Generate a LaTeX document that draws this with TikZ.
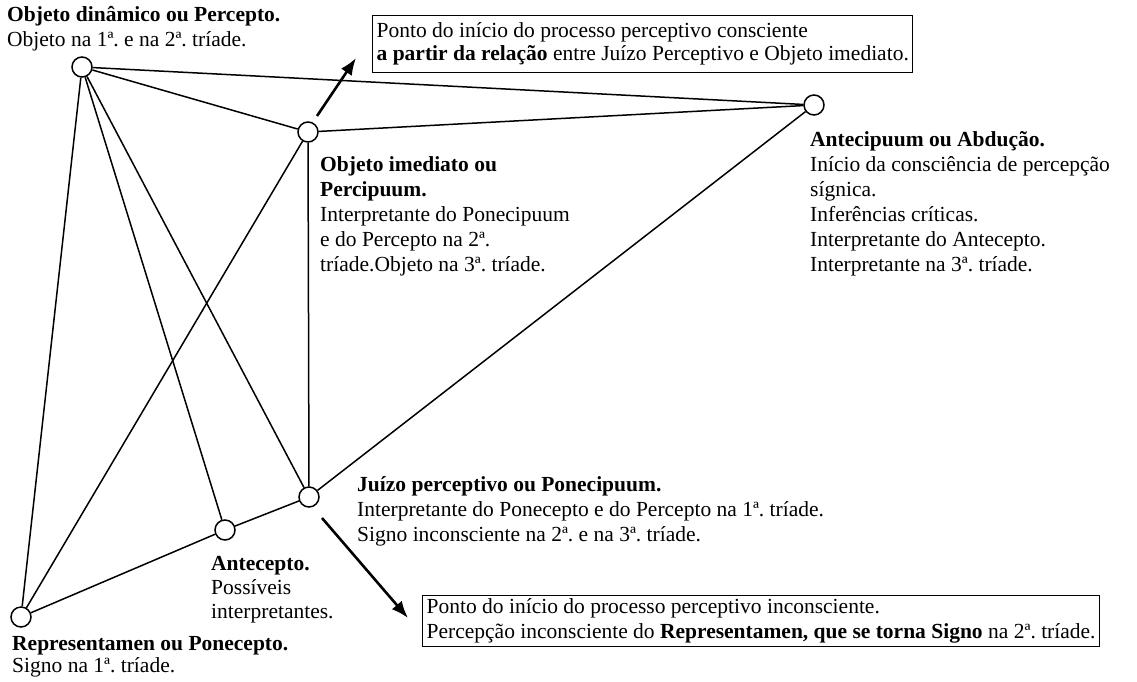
\documentclass[tikz,border=0pt]{standalone}
\usepackage{fontspec}
\setmainfont{Liberation Serif}
\frenchspacing
\usetikzlibrary{positioning}
\usetikzlibrary{calc}
\usetikzlibrary{arrows.meta}

\begin{document}
\begin{tikzpicture}[x=1pt,y=-1pt,
  every node/.style={font=\fontsize{21.5}{25}\selectfont},
  vertex/.style={circle,draw,line width=1.5pt,fill=white,minimum size=20pt,inner sep=0pt},
  textblock/.style={anchor=north west,align=left,inner sep=0pt},
  note/.style={draw,line width=1.3pt,anchor=north west,align=left,inner xsep=4pt},
  link/.style={line width=1.5pt},
  pointer/.style={line width=2.6pt,-{Latex[length=17pt,width=13pt]}}]

\useasboundingbox (0,0) rectangle (1137,681);

% vertices
  \node[vertex] (od) at (82,67) {};
  \node[vertex] (oi) at (308,132) {};
  \node[vertex] (ab) at (814,105) {};
  \node[vertex] (jp) at (309,497) {};
  \node[vertex] (an) at (225,530) {};
  \node[vertex] (rp) at (21,617) {};

% lines
  \draw[link] (od) -- (ab);
  \draw[link] (od) -- (oi);
  \draw[link] (od) -- (rp);
  \draw[link] (od) -- (an);
  \draw[link] (od) -- (jp);
  \draw[link] (oi) -- (ab);
  \draw[link] (oi) -- (rp);
  \draw[link] (oi) -- (jp);
  \draw[link] (jp) -- (ab);
  \draw[link] (rp) -- (an);
  \draw[link] (an) -- (jp);

% texts
  \node[textblock] (odtext) at (7,6) {\textbf{Objeto dinâmico ou Percepto.}\\Objeto na 1ª. e na 2ª. tríade.};
  \node[textblock] (oitext) at (320,156) {\textbf{Objeto imediato ou}\\\textbf{Percipuum.}\\Interpretante do Ponecipuum\\e do Percepto na 2ª.\\tríade.Objeto na 3ª. tríade.};
  \node[textblock] (abtext) at (810,131) {\textbf{Antecipuum ou Abdução.}\\Início da consciência de percepção\\sígnica.\\Inferências críticas.\\Interpretante do Antecepto.\\Interpretante na 3ª. tríade.};
  \node[textblock] (jptext) at (357,476) {\textbf{Juízo perceptivo ou Ponecipuum.}\\Interpretante do Ponecepto e do Percepto na 1ª. tríade.\\Signo inconsciente na 2ª. e na 3ª. tríade.};
  \node[textblock] (antext) at (211,556) {\textbf{Antecepto.}\\[-1pt]Possíveis\\[-1pt]interpretantes.};
  \node[textblock] (rptext) at (12,636) {\textbf{Representamen ou Ponecepto.}\\[-3pt]Signo na 1ª. tríade.};

% boxes
  \node[note,inner ysep=7pt] (topnote) at (372,15) {Ponto do início do processo perceptivo consciente\\[-2pt]\textbf{a partir da relação} entre Juízo Perceptivo e Objeto imediato.};
  \node[note,inner ysep=3pt] (botnote) at (422,595) {Ponto do início do processo perceptivo inconsciente.\\Percepção inconsciente do \textbf{Representamen, que se torna Signo} na 2ª. tríade.};

% arrows
  \coordinate (upstart) at (317,116);
  \coordinate (upend) at (356,58);
  \coordinate (downstart) at (322,518);
  \coordinate (downend) at (408,618);
  \draw[pointer] (upstart) -- (upend);
  \draw[pointer] (downstart) -- (downend);

\end{tikzpicture}
\end{document}
